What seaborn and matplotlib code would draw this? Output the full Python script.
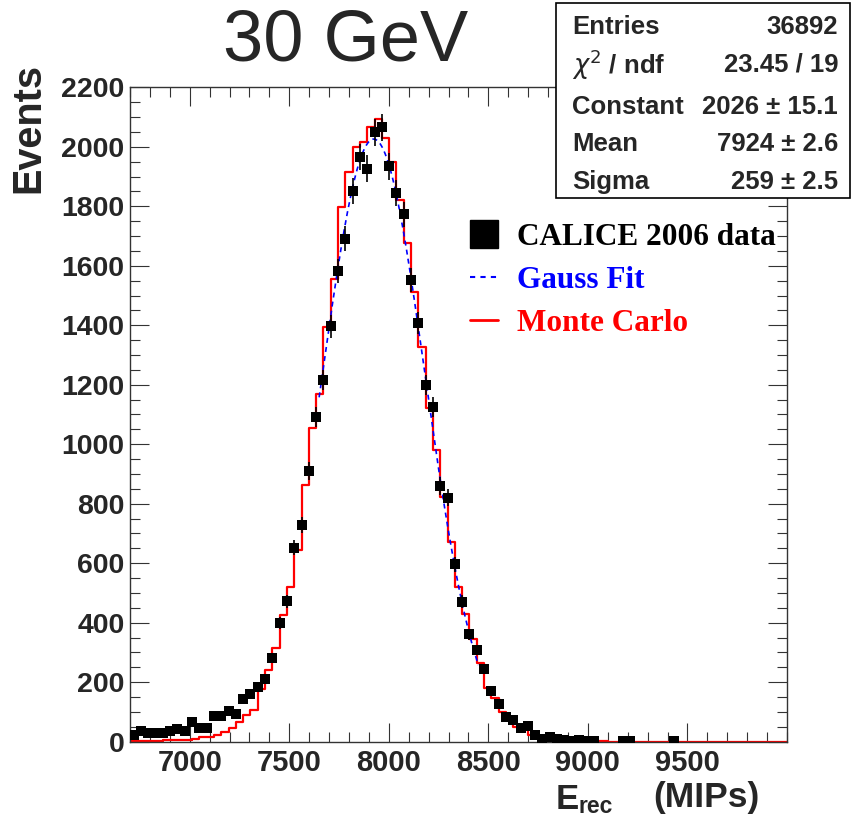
import numpy as np
import pandas as pd
import matplotlib
matplotlib.use("Agg")
import matplotlib.pyplot as plt
from matplotlib.lines import Line2D
from matplotlib.patches import Rectangle
from matplotlib.ticker import MultipleLocator
from matplotlib.font_manager import FontProperties
import seaborn as sns

# ---- binning of the reconstructed energy histogram (MIPs) ----
x_lo, x_hi, n_bins = 6700.0, 10000.0, 90

# CALICE 2006 data, events per bin
data_counts = [
    22, 37, 28, 28, 30, 36, 42, 36, 66, 46,
    46, 85, 88, 103, 92, 145, 162, 185, 210, 283,
    400, 472, 652, 727, 910, 1092, 1216, 1396, 1583, 1691,
    1852, 1965, 1927, 2049, 2065, 1934, 1844, 1773, 1552, 1407,
    1199, 1125, 859, 820, 596, 471, 361, 308, 243, 170,
    126, 84, 73, 45, 54, 22, 8, 17, 8, 6,
    1, 6, 2, 1, 0, 0, 0, 1, 1, 0,
    0, 0, 0, 0, 1, 0, 0, 0, 0, 0,
    0, 0, 0, 0, 0, 0, 0, 0, 0, 0,
]

# Monte Carlo histogram (bins offset by half a data bin)
mc_counts = [
    3,
    3, 3, 4, 4, 5, 5, 6, 7, 9, 15,
    17, 22, 34, 47, 66, 90, 106, 176, 240, 315,
    427, 521, 644, 863, 1053, 1169, 1393, 1557, 1798, 1916,
    2000, 2017, 2065, 2092, 2030, 1950, 1820, 1675, 1513, 1328,
    1121, 980, 824, 672, 521, 430, 346, 263, 179, 146,
    101, 84, 50, 42, 22, 11, 6, 4, 3, 2,
    2, 1, 1, 1, 1, 0, 0, 0, 0, 0,
    0, 0, 0, 0, 0, 0, 0, 0, 0, 0,
    0, 0, 0, 0, 0, 0, 0, 0, 0, 0,
]
mc_offset = 0.5  # in units of the bin width

# Gaussian fit result
fit_constant, fit_mean, fit_sigma = 2026.0, 7924.0, 259.0
fit_range = (7650.0, 8450.0)

stats_labels = ["Entries", r"$\chi^{2}$ / ndf", "Constant", "Mean", "Sigma"]
stats_values = ["36892", "23.45 / 19", "2026 \u00b1 15.1", "7924 \u00b1 2.6", "259 \u00b1 2.5"]

legend_labels = ["CALICE 2006 data", "Gauss Fit", "Monte Carlo"]
legend_colors = ["black", "blue", "red"]

title_text = "30 GeV"
y_title = "Events"

# ---- derived arrays ----
bw = (x_hi - x_lo) / n_bins
edges = x_lo + bw * np.arange(n_bins + 1)
centers = 0.5 * (edges[:-1] + edges[1:])
counts = np.asarray(data_counts, dtype=float)
df = pd.DataFrame({"E": centers, "N": counts, "err": np.sqrt(counts)})
df_pts = df[df["N"] > 0]

mc = np.asarray(mc_counts, dtype=float)
mc_edges = x_lo + bw * (np.arange(len(mc) + 1) + mc_offset - 1)
mc_df = pd.DataFrame({"E": 0.5 * (mc_edges[:-1] + mc_edges[1:]), "N": mc})

xf = np.linspace(fit_range[0], fit_range[1], 300)
yf = fit_constant * np.exp(-0.5 * ((xf - fit_mean) / fit_sigma) ** 2)
fit_df = pd.DataFrame({"E": xf, "N": yf})

# ---- figure ----
sns.set_style("ticks")
plt.rcParams["font.family"] = ["Liberation Sans", "DejaVu Sans"]

W, H = 852, 819
fig = plt.figure(figsize=(W / 100, H / 100), dpi=100)
fx = lambda px: px / W
fy = lambda py: 1 - py / H

ax_l, ax_r, ax_t, ax_b = 130, 787, 87.3, 741.7
ax = fig.add_axes([fx(ax_l), fy(ax_b), fx(ax_r - ax_l), (ax_b - ax_t) / H])

sns.histplot(data=mc_df, x="E", weights="N", bins=[float(e) for e in mc_edges],
             element="step", fill=False, color="red", linewidth=1.6, ax=ax,
             zorder=2)
sns.lineplot(data=fit_df, x="E", y="N", color="blue", linewidth=1.2, ax=ax,
             zorder=3)
ax.lines[-1].set_dashes((3, 2.5))
ax.errorbar(df_pts["E"], df_pts["N"], yerr=df_pts["err"], fmt="none",
            ecolor="black", elinewidth=1.2, capsize=0, zorder=4)
sns.scatterplot(data=df_pts, x="E", y="N", marker="s", s=46, color="black",
                edgecolor="black", linewidth=0, ax=ax, zorder=5)

ax.set_xlim(x_lo, x_hi)
ax.set_ylim(0, 2200)
ax.set_xlabel("")
ax.set_ylabel("")

ax.xaxis.set_major_locator(MultipleLocator(500))
ax.xaxis.set_minor_locator(MultipleLocator(100))
ax.yaxis.set_major_locator(MultipleLocator(200))
ax.yaxis.set_minor_locator(MultipleLocator(50))
ax.tick_params(which="both", direction="in", top=True, right=True,
               color="#333333", width=0.8)
ax.tick_params(which="major", length=14)
ax.tick_params(which="minor", length=7)
ax.tick_params(axis="x", which="major", pad=5, labelsize=21)
ax.tick_params(axis="y", which="major", pad=4, labelsize=20.5)
ax.set_xticks([7000, 7500, 8000, 8500, 9000, 9500])
for lab in ax.get_xticklabels() + ax.get_yticklabels():
    lab.set_fontweight("bold")
for s in ax.spines.values():
    s.set_color("#333333")
    s.set_linewidth(1.0)

# legend
handles = [
    Line2D([], [], marker="s", linestyle="none", color="black", markersize=20),
    Line2D([], [], color="blue", linewidth=1.5, dashes=(2.5, 2.5)),
    Line2D([], [], color="red", linewidth=2.0),
]
leg = ax.legend(handles, legend_labels, loc="upper left",
                bbox_to_anchor=(fx(470), fy(223)), bbox_transform=fig.transFigure,
                frameon=False, prop=FontProperties(family="Liberation Serif",
                                                   weight="bold", size=22.5),
                labelcolor=legend_colors, handlelength=0.9, handletextpad=0.6,
                labelspacing=0.45, borderpad=0, borderaxespad=0)

# statistics box
box = Rectangle((fx(556), fy(198)), fx(850 - 556), (198 - 3) / H,
                transform=fig.transFigure, facecolor="white", edgecolor="black",
                linewidth=1.2, zorder=5)
fig.add_artist(box)
rows_y = [27, 65, 106.5, 144, 182]
for lab, val, yy in zip(stats_labels, stats_values, rows_y):
    fig.text(fx(572), fy(yy), lab, ha="left", va="center", fontsize=18.5,
             fontweight="bold", zorder=6)
    fig.text(fx(838), fy(yy), val, ha="right", va="center", fontsize=18.5,
             fontweight="bold", zorder=6)

# titles
fig.text(fx(346), fy(42), title_text, ha="center", va="center", fontsize=52)
fig.text(fx(28), fy(128), y_title, rotation=90, ha="center", va="center",
         fontsize=28.5, fontweight="bold")
fig.text(fx(556), fy(809), "E", ha="left", va="baseline", fontsize=25,
         fontweight="bold")
fig.text(fx(578), fy(813), "rec", ha="left", va="baseline", fontsize=16.5,
         fontweight="bold")
fig.text(fx(653), fy(807), "(MIPs)", ha="left", va="baseline", fontsize=25.5,
         fontweight="bold")

fig.savefig("out.png", dpi=100)
